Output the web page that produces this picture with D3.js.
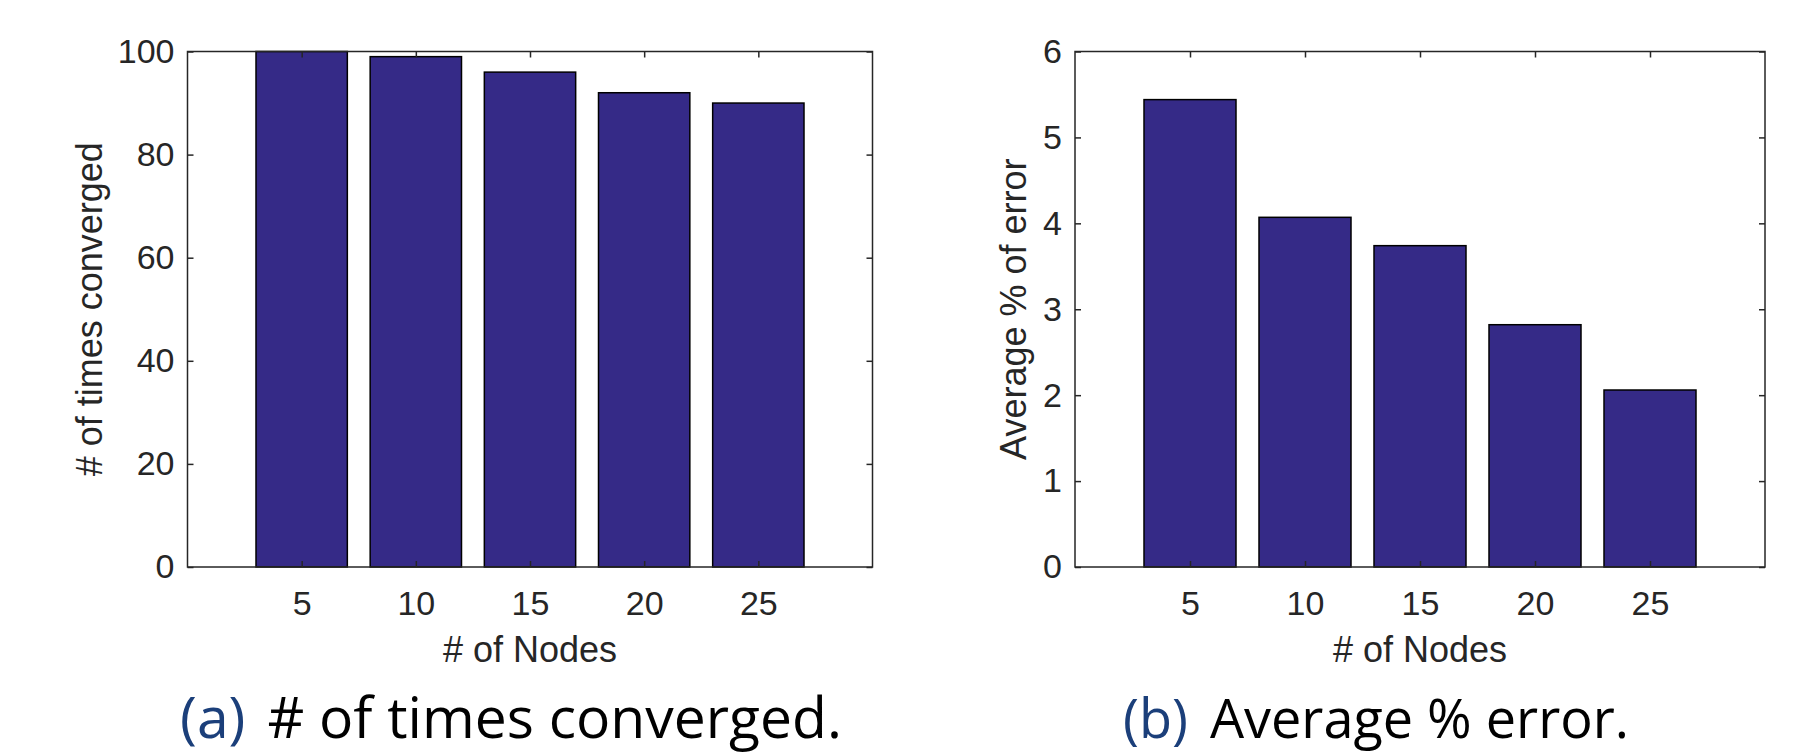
<!DOCTYPE html>
<html lang="en">
<head>
    <meta charset="UTF-8">
    <title>Convergence and average error by number of nodes</title>
    <script src="https://d3js.org/d3.v7.min.js"></script>
    <style>
        body, html {
            margin: 0;
            padding: 0;
            background: #fff;
        }
        .tick text {
            font-family: "Liberation Sans", Arial, sans-serif;
            fill: #262626;
        }
        .axis-label {
            font-family: "Liberation Sans", Arial, sans-serif;
            fill: #262626;
        }
        .caption {
            font-family: "Open Sans", Lato, sans-serif;
            fill: #000;
        }
    </style>
</head>
<body>
    <div id="chart"></div>
    <script>
        // data
        const nodes = [5, 10, 15, 20, 25];
        const converged = [100, 99, 96, 92, 90];
        const avgError = [5.44, 4.07, 3.74, 2.82, 2.06];
        const xTicks = [5, 10, 15, 20, 25];
        const yTicksA = [0, 20, 40, 60, 80, 100];
        const yTicksB = [0, 1, 2, 3, 4, 5, 6];

        const W = 1793, H = 755;
        const barColor = "#352a87";
        const axisColor = "#262626";

        const svg = d3.select("#chart").append("svg")
            .attr("width", W)
            .attr("height", H);

        const panels = [
            { left: 187.5, right: 872.5, top: 51.5, bottom: 567, values: converged, yMax: 100, yTicks: yTicksA,
              yLabel: "# of times converged", yLabelX: 90, tag: "(a)", caption: "# of times converged.", capX: 511, capSize: 57 },
            { left: 1075, right: 1765, top: 51.5, bottom: 567, values: avgError, yMax: 6, yTicks: yTicksB,
              yLabel: "Average % of error", yLabelX: 1014, tag: "(b)", caption: "Average % error.", capX: 1376, capSize: 54 }
        ];

        panels.forEach(p => {
            const x = d3.scaleLinear().domain([0, 30]).range([p.left, p.right]);
            const y = d3.scaleLinear().domain([0, p.yMax]).range([p.bottom, p.top]);
            const bw = x(4) - x(0);

            const g = svg.append("g");

            // bars
            g.selectAll(".bar")
                .data(nodes.map((n, i) => ({ n, v: p.values[i] })))
                .enter().append("rect")
                .attr("class", "bar")
                .attr("x", d => x(d.n) - bw / 2)
                .attr("width", bw)
                .attr("y", d => y(d.v))
                .attr("height", d => y(0) - y(d.v))
                .attr("fill", barColor)
                .attr("stroke", "#000")
                .attr("stroke-width", 1.5);

            // bottom axis with labels
            g.append("g")
                .attr("transform", `translate(0,${p.bottom})`)
                .call(d3.axisBottom(x).tickValues(xTicks).tickSizeInner(-6).tickSizeOuter(0).tickPadding(24))
                .call(a => a.select(".domain").remove())
                .call(a => a.selectAll("line").attr("stroke", axisColor).attr("stroke-width", 1.5))
                .call(a => a.selectAll("text").style("font-size", "34px"));

            // left axis with labels
            g.append("g")
                .attr("transform", `translate(${p.left},0)`)
                .call(d3.axisLeft(y).tickValues(p.yTicks).tickFormat(d3.format("d"))
                    .tickSizeInner(-6).tickSizeOuter(0).tickPadding(13))
                .call(a => a.select(".domain").remove())
                .call(a => a.selectAll("line").attr("stroke", axisColor).attr("stroke-width", 1.5))
                .call(a => a.selectAll("text").style("font-size", "34px"));

            // mirrored ticks on top and right
            g.append("g")
                .attr("transform", `translate(0,${p.top})`)
                .call(d3.axisTop(x).tickValues(xTicks).tickSizeInner(-6).tickSizeOuter(0).tickFormat(""))
                .call(a => a.select(".domain").remove())
                .call(a => a.selectAll("line").attr("stroke", axisColor).attr("stroke-width", 1.5));

            g.append("g")
                .attr("transform", `translate(${p.right},0)`)
                .call(d3.axisRight(y).tickValues(p.yTicks).tickSizeInner(-6).tickSizeOuter(0).tickFormat(""))
                .call(a => a.select(".domain").remove())
                .call(a => a.selectAll("line").attr("stroke", axisColor).attr("stroke-width", 1.5));

            // axes box
            g.append("rect")
                .attr("x", p.left)
                .attr("y", p.top)
                .attr("width", p.right - p.left)
                .attr("height", p.bottom - p.top)
                .attr("fill", "none")
                .attr("stroke", axisColor)
                .attr("stroke-width", 1.5);

            // axis titles
            g.append("text")
                .attr("class", "axis-label")
                .attr("x", (p.left + p.right) / 2)
                .attr("y", 662)
                .attr("text-anchor", "middle")
                .style("font-size", "36px")
                .text("# of Nodes");

            g.append("text")
                .attr("class", "axis-label")
                .attr("transform", `translate(${p.yLabelX + 12},${(p.top + p.bottom) / 2}) rotate(-90)`)
                .attr("text-anchor", "middle")
                .style("font-size", "36px")
                .text(p.yLabel);

            // sub-caption
            const cap = svg.append("text")
                .attr("class", "caption")
                .attr("x", p.capX)
                .attr("y", 738)
                .attr("text-anchor", "middle")
                .style("font-size", p.capSize + "px");
            cap.append("tspan").attr("fill", "#1b3f7a").text(p.tag);
            cap.append("tspan").attr("dx", 22).text(p.caption);
        });
    </script>
</body>
</html>
